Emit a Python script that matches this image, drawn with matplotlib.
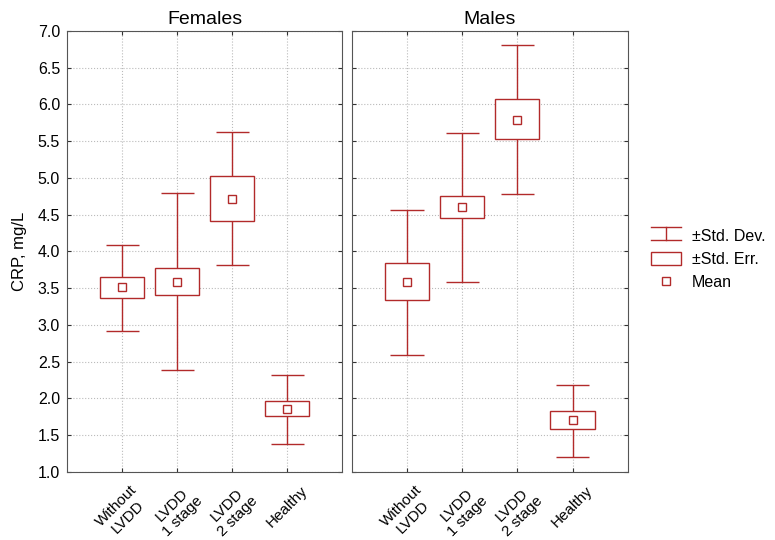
import numpy as np
import matplotlib.pyplot as plt
from matplotlib.patches import Rectangle
from matplotlib.lines import Line2D
from matplotlib.legend_handler import HandlerBase

plt.rcParams['font.family'] = ['Liberation Sans', 'DejaVu Sans']

groups = ['Without\nLVDD', 'LVDD\n1 stage', 'LVDD\n2 stage', 'Healthy']
panels = ['Females', 'Males']

# mean, std. err. box (low, high), std. dev. whiskers (low, high)
fem_mean = [3.51, 3.58, 4.71, 1.86]
fem_se_lo = [3.36, 3.41, 4.41, 1.76]
fem_se_hi = [3.65, 3.77, 5.03, 1.96]
fem_sd_lo = [2.92, 2.38, 3.81, 1.38]
fem_sd_hi = [4.08, 4.80, 5.62, 2.32]

male_mean = [3.58, 4.61, 5.79, 1.70]
male_se_lo = [3.34, 4.45, 5.53, 1.59]
male_se_hi = [3.84, 4.75, 6.07, 1.83]
male_sd_lo = [2.59, 3.59, 4.78, 1.21]
male_sd_hi = [4.56, 5.61, 6.81, 2.18]

red = '#B22A2A'

fig = plt.figure(figsize=(7.75, 5.4), dpi=100)
ax1 = fig.add_axes([0.0865, 0.126, 0.355, 0.817])
ax2 = fig.add_axes([0.454, 0.126, 0.356, 0.817])

data = [(fem_mean, fem_se_lo, fem_se_hi, fem_sd_lo, fem_sd_hi),
        (male_mean, male_se_lo, male_se_hi, male_sd_lo, male_sd_hi)]

for ax, name, (mean, se_lo, se_hi, sd_lo, sd_hi) in zip([ax1, ax2], panels, data):
    x = np.arange(1, len(groups) + 1)
    for i in range(len(groups)):
        ax.vlines(x[i], sd_lo[i], se_lo[i], color=red, lw=1)
        ax.vlines(x[i], se_hi[i], sd_hi[i], color=red, lw=1)
        ax.hlines([sd_lo[i], sd_hi[i]], x[i] - 0.3, x[i] + 0.3, color=red, lw=1)
        ax.add_patch(Rectangle((x[i] - 0.4, se_lo[i]), 0.8, se_hi[i] - se_lo[i],
                               facecolor='white', edgecolor=red, lw=1, zorder=3))
    ax.plot(x, mean, ls='none', marker='s', ms=6, mfc='white', mec=red, mew=1, zorder=4)
    ax.set_xlim(0, 5)
    ax.set_ylim(1.0, 7.0)
    ax.set_yticks(np.arange(1.0, 7.01, 0.5))
    ax.set_xticks(x)
    ax.set_xticklabels(groups, rotation=45, ha='center', va='top',
                       fontsize=11, linespacing=1.15, multialignment='center')
    ax.grid(True, ls=':', color='#BBBBBB', lw=0.8)
    ax.set_axisbelow(True)
    ax.tick_params(direction='in', length=3, right=True, top=True, labelsize=11.5,
                   colors='#333333', labelcolor='black', pad=5)
    ax.tick_params(axis='x', labelsize=11, pad=8)
    for s in ax.spines.values():
        s.set_color('#555555')
    ax.set_title(name, fontsize=14, pad=5)

ax1.yaxis.set_major_formatter(plt.FormatStrFormatter('%.1f'))
ax1.set_ylabel('CRP, mg/L', fontsize=12, labelpad=8)
ax2.tick_params(labelleft=False)


class SDHandler(HandlerBase):
    def create_artists(self, legend, orig_handle, xd, yd, w, h, fontsize, trans):
        lines = [
            Line2D([xd, xd + w], [yd + h, yd + h]),
            Line2D([xd, xd + w], [yd, yd]),
            Line2D([xd + w / 2, xd + w / 2], [yd, yd + h]),
        ]
        for l in lines:
            l.set_color(red)
            l.set_linewidth(1)
            l.set_transform(trans)
        return lines


sd_handle = Line2D([], [], color=red)
se_handle = Rectangle((0, 0), 1, 1, facecolor='white', edgecolor=red, lw=1)
mean_handle = Line2D([], [], ls='none', marker='s', ms=6, mfc='white', mec=red, mew=1)

fig.legend([sd_handle, se_handle, mean_handle], ['±Std. Dev.', '±Std. Err.', 'Mean'],
           handler_map={sd_handle: SDHandler()}, loc='center left',
           bbox_to_anchor=(0.821, 0.52), frameon=False, fontsize=11.5,
           handlelength=1.9, handleheight=0.85, handletextpad=0.7, labelspacing=0.5)

fig.savefig('out.png', dpi=100)
